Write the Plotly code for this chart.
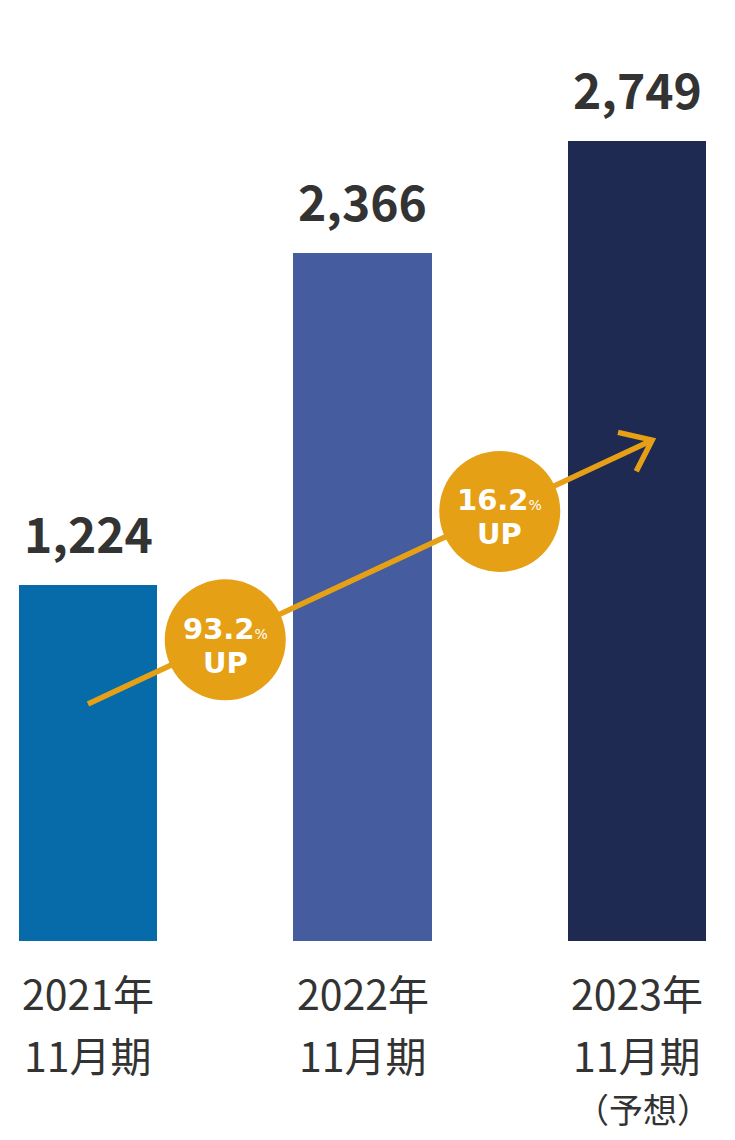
import math
import plotly.graph_objects as go

# ---- data ----
years = ["2021年", "2022年", "2023年"]
periods = ["11月期", "11月期", "11月期"]
notes = ["", "", "（予想）"]
values = [1224, 2366, 2749]
value_labels = ["1,224", "2,366", "2,749"]
growth_pct = ["93.2", "16.2"]
bar_colors = ["#066BA8", "#455C9E", "#1F2A52"]
arrow_start = (0.0, 815)     # data coords (x index, value)
arrow_end = (2.055, 1722)

# ---- layout constants ----
W, H = 735, 1140
XR = [-0.3206, 2.357]
YR = [-684.2, 3235.3]
SX = W / (XR[1] - XR[0])   # px per x unit
SY = H / (YR[1] - YR[0])   # px per y unit
ORANGE = "#E5A016"
TXT = "#333333"
FONT = "Noto Sans CJK JP"
CFONT = "DejaVu Sans"

x = list(range(len(values)))

fig = go.Figure()
fig.add_trace(go.Bar(
    x=x, y=values, width=0.503, marker=dict(color=bar_colors, line=dict(width=0)),
    hoverinfo="skip", showlegend=False,
))

# arrow line + chevron head
(x0, y0), (x1, y1) = arrow_start, arrow_end
dxp, dyp = (x1 - x0) * SX, -(y1 - y0) * SY
L = math.hypot(dxp, dyp)
bx, by = -dxp / L, -dyp / L
head_len, head_ang = 35, math.radians(38)
wings = []
for s in (1, -1):
    c, sn = math.cos(s * head_ang), math.sin(s * head_ang)
    wx, wy = (bx * c - by * sn) * head_len, (bx * sn + by * c) * head_len
    wings.append((x1 + wx / SX, y1 - wy / SY))
fig.add_trace(go.Scatter(
    x=[x0, x1, None, wings[0][0], x1, wings[1][0]],
    y=[y0, y1, None, wings[0][1], y1, wings[1][1]],
    mode="lines", line=dict(color=ORANGE, width=5.5),
    hoverinfo="skip", showlegend=False,
))

shapes = []
annotations = []
# growth circles at midpoints between bars, on the arrow
for i, pct in enumerate(growth_pct):
    cx = i + 0.5
    cy = y0 + (y1 - y0) * (cx - x0) / (x1 - x0)
    shapes.append(dict(
        type="circle", xref="x", yref="y", xsizemode="pixel", ysizemode="pixel",
        xanchor=cx, yanchor=cy, x0=-60.5, x1=60.5, y0=-60.5, y1=60.5,
        fillcolor=ORANGE, line=dict(width=0), layer="above",
    ))
    annotations.append(dict(
        x=cx, y=cy, xref="x", yref="y", showarrow=False, yshift=-6,
        text=(f"<span style='font-size:29px'><b>{pct}</b></span>"
              f"<span style='font-size:14px'>%</span><br>"
              f"<span style='font-size:29px'><b>UP</b></span>"),
        font=dict(family=CFONT, size=26, color="white"), xanchor="center", yanchor="middle",
    ))

for i, v in enumerate(values):
    annotations.append(dict(
        x=i, y=v, xref="x", yref="y", showarrow=False, yshift=53,
        text=f"<b>{value_labels[i]}</b>",
        font=dict(family=FONT, size=48, color=TXT), xanchor="center", yanchor="middle",
    ))
    annotations.append(dict(
        x=i, y=0, xref="x", yref="y", showarrow=False, yshift=-51,
        text=years[i], font=dict(family=FONT, size=41, color=TXT),
        xanchor="center", yanchor="middle",
    ))
    annotations.append(dict(
        x=i, y=0, xref="x", yref="y", showarrow=False, yshift=-113,
        text=periods[i], font=dict(family=FONT, size=41, color=TXT),
        xanchor="center", yanchor="middle",
    ))
    if notes[i]:
        annotations.append(dict(
            x=i, y=0, xref="x", yref="y", showarrow=False, yshift=-167, xshift=6,
            text=notes[i], font=dict(family=FONT, size=34, color=TXT),
            xanchor="center", yanchor="middle",
        ))

fig.update_layout(
    width=W, height=H, margin=dict(l=0, r=0, t=0, b=0),
    paper_bgcolor="white", plot_bgcolor="white",
    xaxis=dict(range=XR, visible=False, fixedrange=True),
    yaxis=dict(range=YR, visible=False, fixedrange=True),
    shapes=shapes, annotations=annotations, bargap=0,
)
fig.write_html("out.html", config={"displayModeBar": False},
               post_script="document.body.style.margin='0';document.body.style.overflow='hidden';")
